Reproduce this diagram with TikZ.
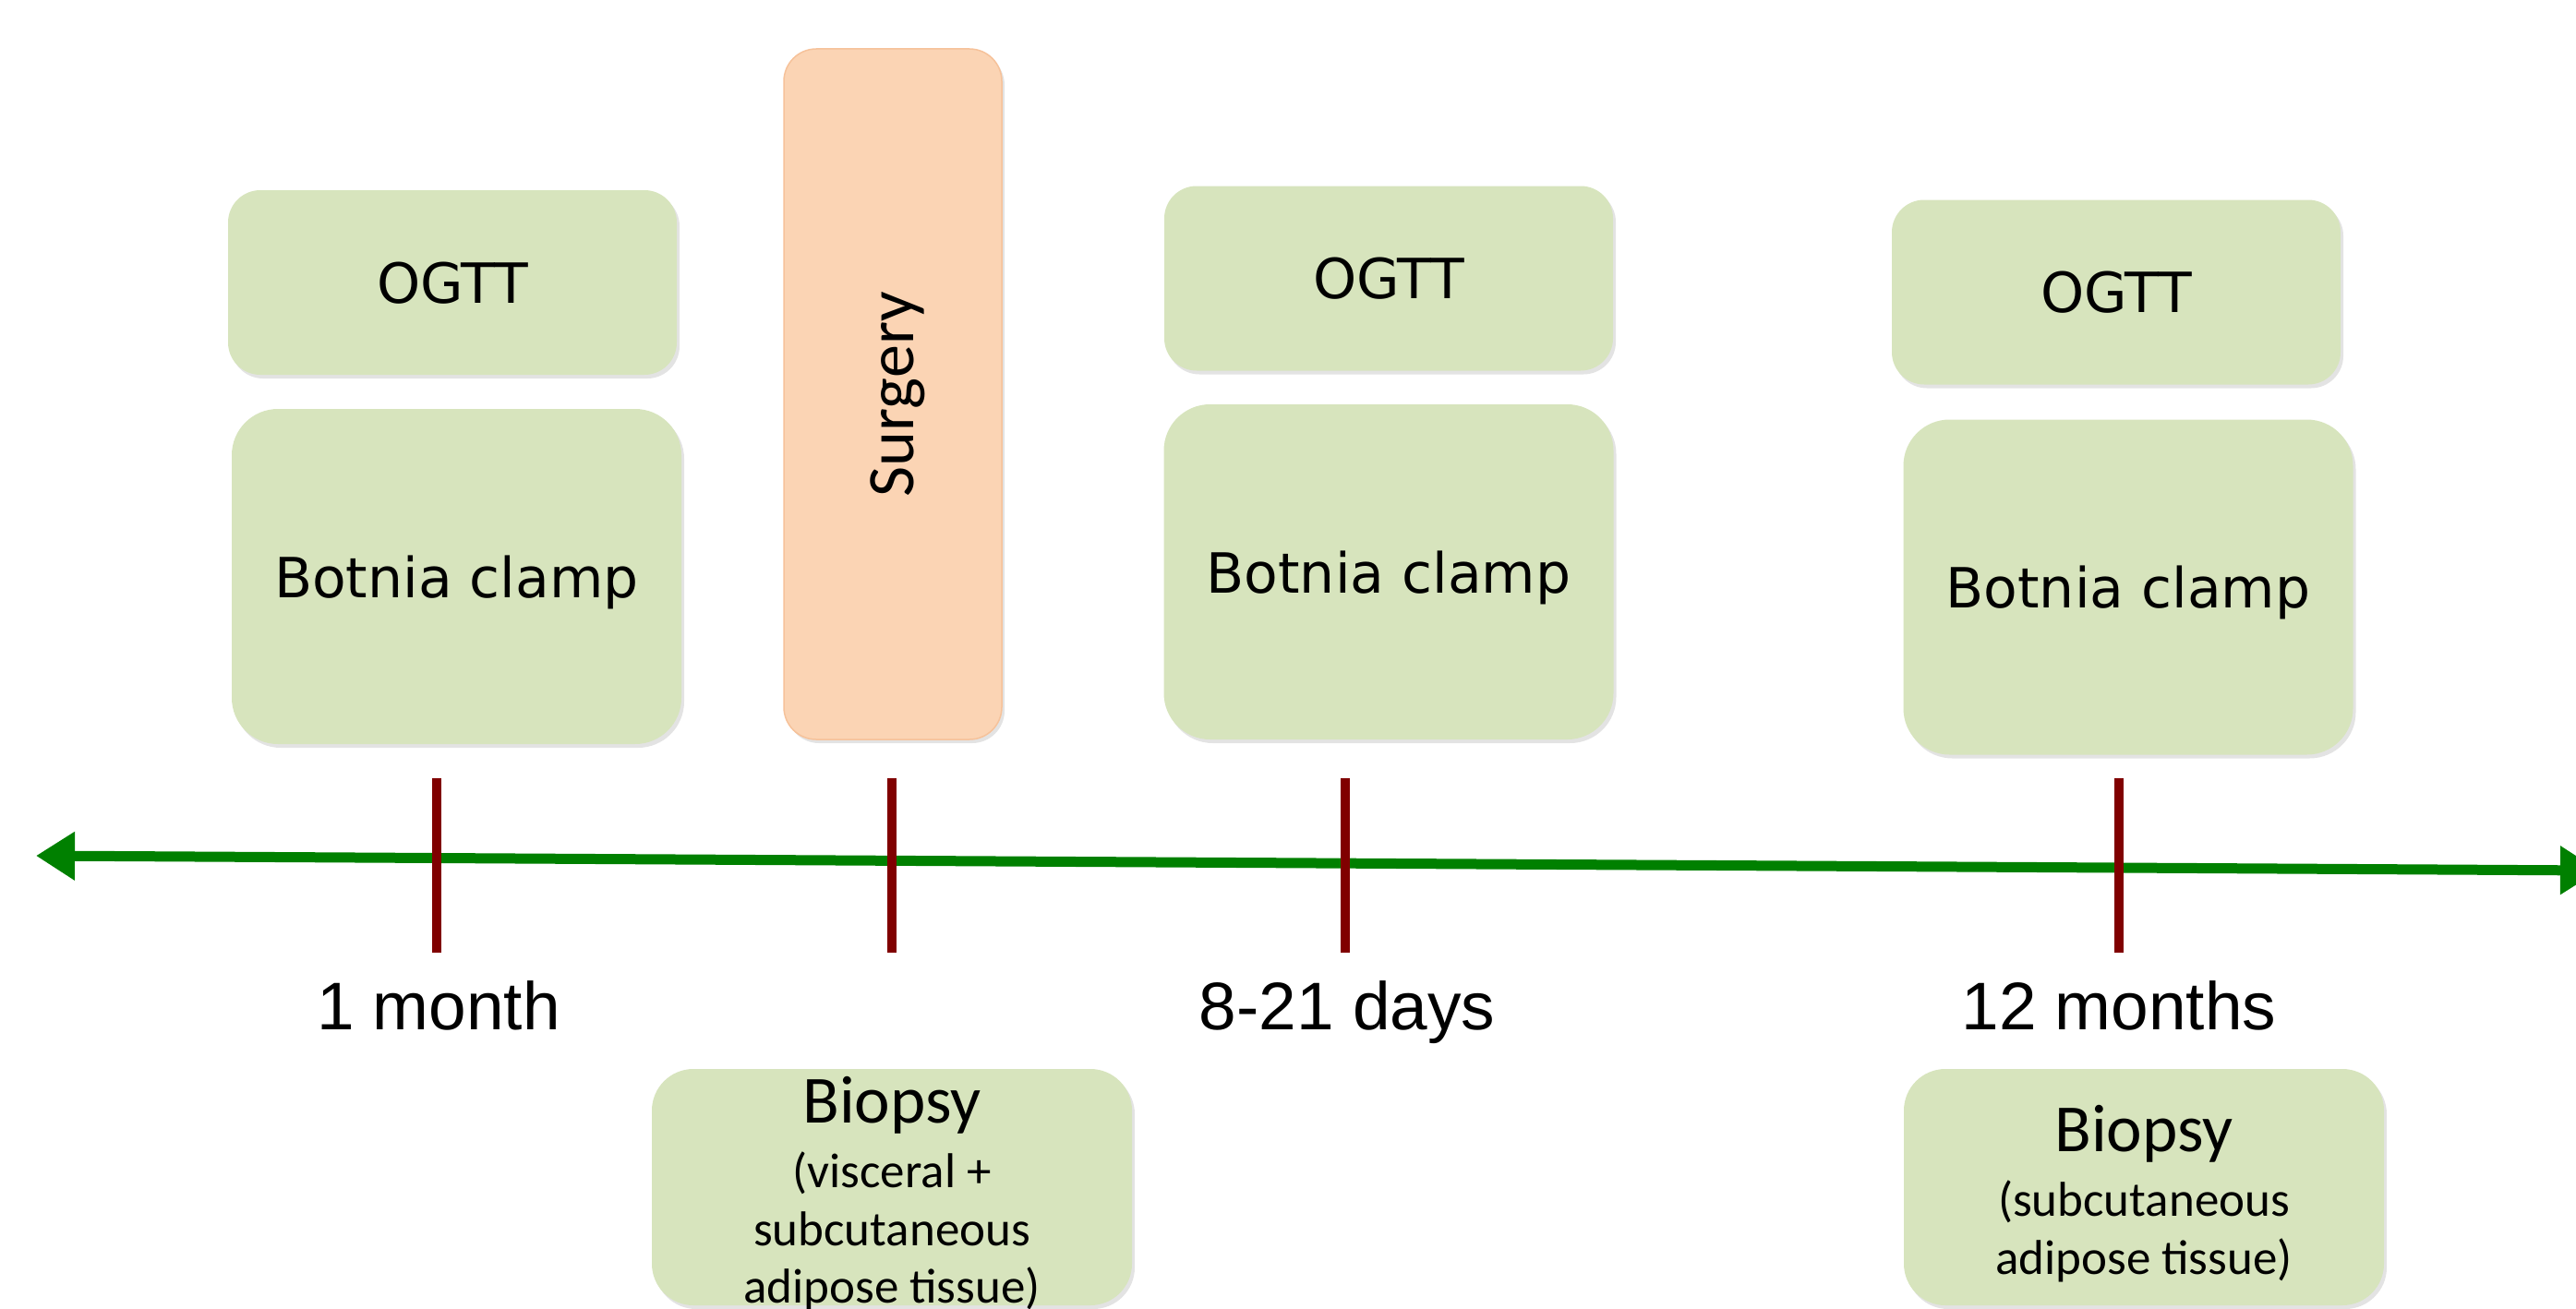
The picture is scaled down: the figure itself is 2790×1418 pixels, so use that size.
\documentclass[tikz,border=0pt]{standalone}
\usepackage{fontspec}
\setmainfont{Liberation Sans}
\newfontfamily\boxfont{DejaVu Sans}
\newfontfamily\calfont{Carlito}
\usetikzlibrary{arrows.meta,shadows}
\definecolor{boxgreen}{HTML}{D7E4BD}
\definecolor{surgfill}{HTML}{FBD4B4}
\definecolor{surgedge}{HTML}{F6C29A}
\definecolor{axisgreen}{HTML}{008000}
\definecolor{tickred}{HTML}{800000}
\begin{document}
\begin{tikzpicture}[x=1pt,y=-1pt,
  shade/.style={drop shadow={shadow xshift=3pt,shadow yshift=-4pt,opacity=0.22}},
  greenbox/.style={rectangle,fill=boxgreen,inner sep=0pt,shade,text depth=0pt,
    font=\boxfont\fontsize{60}{72}\selectfont},
  ogttbox/.style={greenbox,rounded corners=35pt,minimum width=486pt,minimum height=200pt},
  clampbox/.style={greenbox,rounded corners=50pt,minimum width=487pt,minimum height=363pt},
  biobox/.style={rectangle,fill=boxgreen,inner sep=0pt,shade,rounded corners=45pt,
    minimum width=520pt,minimum height=256pt},
  biotitle/.style={anchor=base,inner sep=0pt,font=\calfont\fontsize{73}{80}\selectfont},
  bioline/.style={anchor=base,inner sep=0pt,font=\calfont\fontsize{53}{62}\selectfont},
  surgbox/.style={rectangle,fill=surgfill,draw=surgedge,line width=1.5pt,inner sep=0pt,shade,
    rounded corners=35pt,minimum width=236pt,minimum height=748pt},
  timelbl/.style={anchor=base,inner sep=0pt,font=\fontsize{73}{80}\selectfont},
  axis/.style={draw=axisgreen,line width=11pt,
    {Triangle[length=42pt,width=50pt]}-{Triangle[length=42pt,width=50pt]}},
  tickmark/.style={draw=tickred,line width=10pt}]
\useasboundingbox (0,0) rectangle (2790,1418);

% upper boxes
\node[ogttbox]  (ogtt1)  at (490,306)   {OGTT};
\node[clampbox] (clamp1) at (494.5,624.5) {Botnia clamp};
\node[surgbox]  (surg)   at (967,427) {};
\node[rotate=90,inner sep=0pt,font=\calfont\fontsize{72}{80}\selectfont] (surgtxt) at (972,427) {Surgery};
\node[ogttbox]  (ogtt2)  at (1504,301.5) {OGTT};
\node[clampbox] (clamp2) at (1504,619.5) {Botnia clamp};
\node[ogttbox]  (ogtt3)  at (2292,316.5) {OGTT};
\node[clampbox] (clamp3) at (2305,636) {Botnia clamp};

% timeline
\coordinate (L) at (39,927);
\coordinate (R) at (2815,943);
\draw[axis] (L) -- (R);

% ticks
\coordinate (t1a) at (473,843);  \coordinate (t1b) at (473,1032);
\coordinate (t2a) at (966,843);  \coordinate (t2b) at (966,1032);
\coordinate (t3a) at (1457,843); \coordinate (t3b) at (1457,1032);
\coordinate (t4a) at (2295,843); \coordinate (t4b) at (2295,1032);
\draw[tickmark] (t1a) -- (t1b);
\draw[tickmark] (t2a) -- (t2b);
\draw[tickmark] (t3a) -- (t3b);
\draw[tickmark] (t4a) -- (t4b);

% time labels
\node[timelbl] (lab1) at (475,1115)  {1 month};
\node[timelbl] (lab2) at (1459,1115) {8-21 days};
\node[timelbl] (lab3) at (2295,1115) {12 months};

% biopsy boxes
\node[biobox] (bio1) at (966,1286) {};
\node[biotitle] (bio1t) at (966,1216) {Biopsy};
\node[bioline] (bio1a) at (966,1286) {(visceral +};
\node[bioline] (bio1b) at (966,1349) {subcutaneous};
\node[bioline] (bio1c) at (966,1411) {adipose tissue)};

\node[biobox] (bio2) at (2322,1286) {};
\node[biotitle] (bio2t) at (2322,1247) {Biopsy};
\node[bioline] (bio2a) at (2322,1317) {(subcutaneous};
\node[bioline] (bio2b) at (2322,1380) {adipose tissue)};
\end{tikzpicture}
\end{document}
